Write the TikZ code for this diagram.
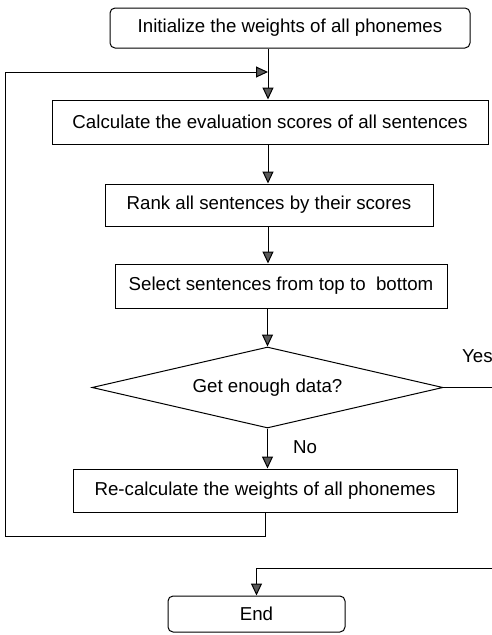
\documentclass[tikz,border=0pt]{standalone}
\usepackage{fontspec}
\setmainfont{Liberation Sans}
\usetikzlibrary{arrows.meta,shapes.geometric}

\begin{document}
\begin{tikzpicture}[>={Triangle[length=12pt,width=11pt,fill=black!65]}, line width=1pt, x=1pt, y=1pt, font=\fontsize{18.7}{22}\selectfont]
\tikzstyle{proc}=[draw=black, rectangle, minimum height=43pt, inner sep=0pt]
\tikzstyle{term}=[proc, rounded corners=5pt]
\tikzstyle{test}=[draw=black, diamond, aspect=4.3, inner sep=0pt, minimum width=351pt, minimum height=81pt]
\tikzstyle{lbl}=[inner sep=0pt]

\useasboundingbox (0,0) rectangle (492,-635);

\node[term, minimum width=360pt, minimum height=40pt] (init) at (290,-28) {Initialize the weights of all phonemes};
\node[proc, minimum width=436pt, minimum height=44pt] (calc) [below of=init, node distance=94pt, xshift=-20pt] {Calculate the evaluation scores of all sentences};
\node[proc, minimum width=328pt, minimum height=42pt] (rank) [below of=calc, node distance=83pt, xshift=-1pt] {Rank all sentences by their scores};
\node[proc, minimum width=332pt, minimum height=44pt] (select) [below of=rank, node distance=81pt, xshift=12pt] {Select sentences from top to\ \ bottom};
\node[test] (dec) [below of=select, node distance=101.5pt, xshift=-13.5pt] {Get enough data?};
\node[proc, minimum width=384pt, minimum height=43pt] (recalc) [below of=dec, node distance=103pt, xshift=-2.5pt] {Re-calculate the weights of all phonemes};
\node[term, minimum width=177pt, minimum height=36pt] (end) [below of=recalc, node distance=123.5pt, xshift=-8.5pt] {End};

\coordinate (spine) at (268,0);
\coordinate (ltop) at (5,-72);
\coordinate (lbot) at (5,-536);
\coordinate (yesout) at (492,0);
\coordinate (endin) at (492,-568);

\draw[->] (init.south -| spine) -- (calc.north -| spine);
\draw[->] (calc.south -| spine) -- (rank.north -| spine);
\draw[->] (rank.south -| spine) -- (select.north -| spine);
\draw[->] (select.south -| dec.north) -- (dec.north);
\draw[->] (dec.south) -- node[lbl, pos=0.46, right, xshift=25pt] {No} (recalc.north -| dec.south);
\draw[->] (recalc.south) |- (lbot) -- (ltop) -- (ltop -| spine);
\draw (dec.east) -- node[lbl, pos=0.7, above, yshift=24pt] {Yes} (dec.east -| yesout);
\draw[->] (endin) -| (end);
\end{tikzpicture}
\end{document}
